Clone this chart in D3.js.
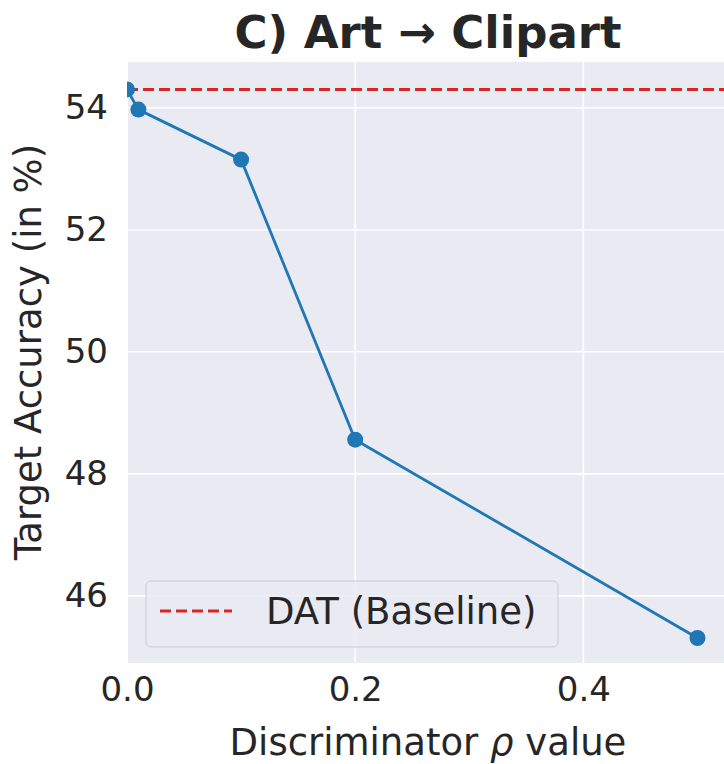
<!DOCTYPE html>
<html>
<head>
<meta charset="utf-8">
<script src="https://cdn.jsdelivr.net/npm/d3@7"></script>
<style>
  body { margin: 0; background: #fff; }
  text { font-family: "DejaVu Sans", sans-serif; fill: #262626; }
</style>
</head>
<body>
<div id="graph"></div>
<script>
(function() {

  const rhoValues = [0, 0.01, 0.1, 0.2, 0.5]
  const accuracy = [54.3, 53.97, 53.15, 48.56, 45.31]
  const baseline = 54.3
  const xTicks = [0.0, 0.2, 0.4]
  const yTicks = [46, 48, 50, 52, 54]

  const W = 724, H = 764
  const margin = {top: 62, right: -2, bottom: 101, left: 127}
  const width = W - margin.left - margin.right
  const height = H - margin.top - margin.bottom

  const root = d3.select("#graph").append("svg")
    .attr("width", W).attr("height", H)

  root.append("defs").append("clipPath").attr("id", "clip")
    .append("rect").attr("width", width).attr("height", height)

  const svg = root.append("g")
    .attr("transform", "translate(" + margin.left + "," + margin.top + ")")

  const x = d3.scaleLinear().domain([0, 0.525]).range([0, width])
  const y = d3.scaleLinear().domain([44.9, 54.75]).range([height, 0])

  svg.append("rect")
    .attr("width", width).attr("height", height)
    .attr("fill", "#eaeaf2")

  // grid
  svg.append("g").selectAll("line").data(xTicks).join("line")
    .attr("x1", d => x(d)).attr("x2", d => x(d))
    .attr("y1", 0).attr("y2", height)
    .attr("stroke", "#fff").attr("stroke-width", 1.6)
  svg.append("g").selectAll("line").data(yTicks).join("line")
    .attr("x1", 0).attr("x2", width)
    .attr("y1", d => y(d)).attr("y2", d => y(d))
    .attr("stroke", "#fff").attr("stroke-width", 1.6)

  // axes (labels only, seaborn darkgrid has no tick marks)
  const xAxis = svg.append("g")
    .attr("transform", "translate(0," + height + ")")
    .call(d3.axisBottom(x).tickValues(xTicks).tickFormat(d3.format(".1f")).tickSize(0).tickPadding(14))
  const yAxis = svg.append("g")
    .call(d3.axisLeft(y).tickValues(yTicks).tickSize(0).tickPadding(19))
  for (const a of [xAxis, yAxis]) {
    a.select(".domain").remove()
    a.selectAll("text").attr("font-size", 34).attr("font-family", "DejaVu Sans").attr("fill", "#262626")
  }

  const plot = svg.append("g").attr("clip-path", "url(#clip)")

  plot.append("line")
    .attr("x1", 0).attr("x2", width)
    .attr("y1", y(baseline)).attr("y2", y(baseline))
    .attr("stroke", "#d62728").attr("stroke-width", 3)
    .attr("stroke-dasharray", "11,5")

  const pts = rhoValues.map((r, i) => ({ r, a: accuracy[i] }))

  plot.append("path")
    .datum(pts)
    .attr("fill", "none")
    .attr("stroke", "#1f77b4")
    .attr("stroke-width", 2.8)
    .attr("d", d3.line().x(d => x(d.r)).y(d => y(d.a)))

  plot.selectAll("circle").data(pts).join("circle")
    .attr("cx", d => x(d.r)).attr("cy", d => y(d.a))
    .attr("r", 8).attr("fill", "#1f77b4")

  // legend
  const lg = svg.append("g").attr("transform", "translate(19,519)")
  lg.append("rect")
    .attr("width", 412).attr("height", 66).attr("rx", 5)
    .attr("fill", "#eaeaf2").attr("fill-opacity", 0.8)
    .attr("stroke", "#cccccc").attr("stroke-width", 1)
  lg.append("line")
    .attr("x1", 14).attr("x2", 86).attr("y1", 30).attr("y2", 30)
    .attr("stroke", "#d62728").attr("stroke-width", 3)
    .attr("stroke-dasharray", "11,5")
  lg.append("text")
    .attr("x", 120).attr("y", 43)
    .attr("font-size", 37)
    .text("DAT (Baseline)")

  // titles
  root.append("text")
    .attr("x", 428).attr("y", 48)
    .attr("text-anchor", "middle")
    .attr("font-size", 45).attr("font-weight", "bold")
    .text("C) Art \u2192 Clipart")

  const xl = root.append("text")
    .attr("x", 428).attr("y", 755)
    .attr("text-anchor", "middle")
    .attr("font-size", 37)
  xl.append("tspan").text("Discriminator ")
  xl.append("tspan").attr("font-style", "italic").text("\u03c1")
  xl.append("tspan").text(" value")

  root.append("text")
    .attr("transform", "translate(41,352) rotate(-90)")
    .attr("text-anchor", "middle")
    .attr("font-size", 37)
    .text("Target Accuracy (in %)")

})();
</script>
</body>
</html>
